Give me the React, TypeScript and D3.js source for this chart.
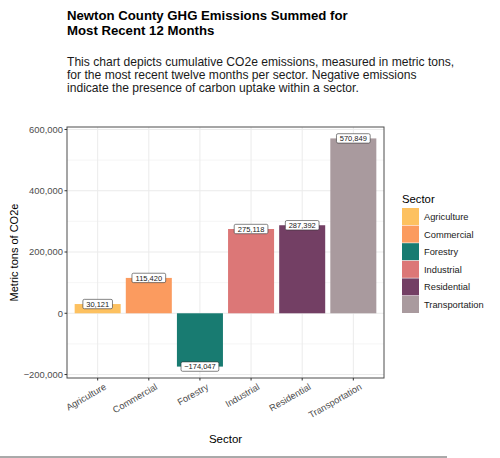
import * as d3 from "d3";

const sectors = [
  "Agriculture",
  "Commercial",
  "Forestry",
  "Industrial",
  "Residential",
  "Transportation",
];
const emissions = [30121, 115420, -174047, 275118, 287392, 570849];
const sectorColors = ["#fdc160", "#fb9b5f", "#187b71", "#dc7777", "#733f64", "#a99a9e"];
const yTicks = [-200000, 0, 200000, 400000, 600000];
const yMinor = [-100000, 100000, 300000, 500000];

const W = 500;
const H = 458;
const panel = { left: 67, top: 127, right: 384, bottom: 378 };
const FONT = "'Liberation Sans', Arial, sans-serif";
const fmt = d3.format(",");

export default function App() {
  const lo = d3.min(emissions)!;
  const hi = d3.max(emissions)!;
  const pad = (hi - lo) * 0.05;
  const y = d3
    .scaleLinear()
    .domain([lo - pad, hi + pad])
    .range([panel.bottom, panel.top]);
  // ggplot-style discrete axis: categories at 1..n, 0.6 expansion each side
  const x = d3
    .scaleLinear()
    .domain([0.4, sectors.length + 0.6])
    .range([panel.left, panel.right]);
  const cx = (s: string) => x(sectors.indexOf(s) + 1);
  const barW = x(1.9) - x(1);

  const color = d3.scaleOrdinal<string>().domain(sectors).range(sectorColors);

  return (
    <svg
      width={W}
      height={H}
      style={{ position: "absolute", left: 0, top: 0, background: "#fff" }}
      fontFamily={FONT}
    >
      <rect x={0} y={0} width={W} height={H} fill="#fff" />
      <text x={67} y={20} fontSize={13.2} fontWeight="bold" fill="#000">
        <tspan x={67}>Newton County GHG Emissions Summed for</tspan>
        <tspan x={67} dy={15}>Most Recent 12 Months</tspan>
      </text>
      <text x={67} y={66} fontSize={12.1} fill="#1a1a1a">
        <tspan x={67}>This chart depicts cumulative CO2e emissions, measured in metric tons,</tspan>
        <tspan x={67} dy={12.9}>for the most recent twelve months per sector. Negative emissions</tspan>
        <tspan x={67} dy={12.9}>indicate the presence of carbon uptake within a sector.</tspan>
      </text>

      {/* panel background and grid */}
      <rect
        x={panel.left}
        y={panel.top}
        width={panel.right - panel.left}
        height={panel.bottom - panel.top}
        fill="#fff"
      />
      {yMinor.map((v) => (
        <line
          key={"mn" + v}
          x1={panel.left}
          x2={panel.right}
          y1={y(v)}
          y2={y(v)}
          stroke="#f0f0f0"
          strokeWidth={0.6}
        />
      ))}
      {yTicks.map((v) => (
        <line
          key={"mj" + v}
          x1={panel.left}
          x2={panel.right}
          y1={y(v)}
          y2={y(v)}
          stroke="#ebebeb"
          strokeWidth={1}
        />
      ))}
      {sectors.map((s) => (
        <line
          key={"gx" + s}
          x1={cx(s)}
          x2={cx(s)}
          y1={panel.top}
          y2={panel.bottom}
          stroke="#ebebeb"
          strokeWidth={1}
        />
      ))}

      {/* bars */}
      {sectors.map((s, i) => {
        const v = emissions[i];
        return (
          <rect
            key={"b" + s}
            x={cx(s) - barW / 2}
            y={Math.min(y(v), y(0))}
            width={barW}
            height={Math.abs(y(v) - y(0))}
            fill={color(s)}
          />
        );
      })}

      {/* value labels */}
      {sectors.map((s, i) => {
        const v = emissions[i];
        const label = fmt(v).replace("-", "\u2212");
        const w = label.length * 4.1 + 5;
        return (
          <g key={"l" + s} transform={`translate(${cx(s)},${y(v)})`}>
            <rect
              x={-w / 2}
              y={-4.7}
              width={w}
              height={9.4}
              rx={1.5}
              fill="#fff"
              stroke="#333"
              strokeWidth={0.6}
            />
            <text textAnchor="middle" y={2.7} fontSize={7.5} fill="#1a1a1a">
              {label}
            </text>
          </g>
        );
      })}

      {/* panel border */}
      <rect
        x={panel.left}
        y={panel.top}
        width={panel.right - panel.left}
        height={panel.bottom - panel.top}
        fill="none"
        stroke="#4d4d4d"
        strokeWidth={1}
      />

      {/* y axis */}
      {yTicks.map((v) => (
        <g key={"yt" + v}>
          <line
            x1={panel.left - 2.5}
            x2={panel.left}
            y1={y(v)}
            y2={y(v)}
            stroke="#333"
            strokeWidth={1}
          />
          <text
            x={panel.left - 4}
            y={y(v)}
            dy="0.35em"
            textAnchor="end"
            fontSize={9.4}
            fill="#4d4d4d"
          >
            {fmt(v).replace("-", "\u2212")}
          </text>
        </g>
      ))}
      <text
        transform={`translate(18,${(panel.top + panel.bottom) / 2}) rotate(-90)`}
        textAnchor="middle"
        fontSize={11}
        fill="#000"
      >
        Metric tons of CO2e
      </text>

      {/* x axis */}
      {sectors.map((s) => (
        <g key={"xt" + s}>
          <line
            x1={cx(s)}
            x2={cx(s)}
            y1={panel.bottom}
            y2={panel.bottom + 2.5}
            stroke="#333"
            strokeWidth={1}
          />
          <text
            transform={`translate(${cx(s) + 6},${panel.bottom + 5}) rotate(-30)`}
            textAnchor="end"
            dy="0.7em"
            fontSize={9.3}
            fill="#4d4d4d"
          >
            {s}
          </text>
        </g>
      ))}
      <text
        x={(panel.left + panel.right) / 2}
        y={443}
        textAnchor="middle"
        fontSize={11.5}
        fill="#000"
      >
        Sector
      </text>

      {/* legend */}
      <text x={402} y={203} fontSize={11.3} fill="#000">
        Sector
      </text>
      {sectors.map((s, i) => (
        <g key={"lg" + s} transform={`translate(402,${208 + i * 17.6})`}>
          <rect width={17} height={17} fill={color(s)} />
          <text x={22} y={8.8} dy="0.35em" fontSize={9.3} fill="#1a1a1a">
            {s}
          </text>
        </g>
      ))}

      {/* bottom rule */}
      <line x1={0} x2={447} y1={457} y2={457} stroke="#555" strokeWidth={1} />
    </svg>
  );
}
